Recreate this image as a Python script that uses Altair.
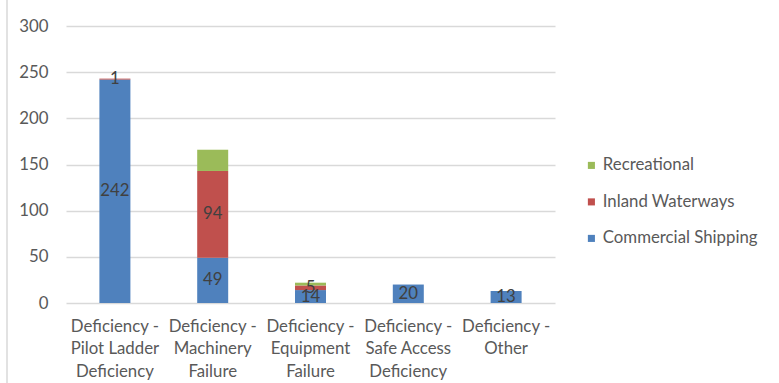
import altair as alt
import pandas as pd

# Deficiency categories, each given as its wrapped label lines
categories = [
    ["Deficiency -", "Pilot Ladder", "Deficiency"],
    ["Deficiency -", "Machinery", "Failure"],
    ["Deficiency -", "Equipment", "Failure"],
    ["Deficiency -", "Safe Access", "Deficiency"],
    ["Deficiency -", "Other"],
]
series = ["Commercial Shipping", "Inland Waterways", "Recreational"]
colors = ["#4F81BD", "#C0504D", "#9BBB59"]

commercial = [242, 49, 14, 20, 13]
inland = [1, 94, 5, 0, 0]
recreational = [0, 23, 3, 0, 0]

# Only these series carry data labels
labelled = ["Commercial Shipping", "Inland Waterways"]

cat_names = ["\n".join(c) for c in categories]
rows = []
for si, (name, vals) in enumerate(zip(series, [commercial, inland, recreational])):
    for cat, v in zip(cat_names, vals):
        if v > 0:
            rows.append({"category": cat, "series": name, "value": v, "order": si})
df = pd.DataFrame(rows)

font = "Lato"
grey_text = "#595959"
fsize = 16.8

base = alt.Chart(df).transform_stack(
    stack="value",
    groupby=["category"],
    as_=["v0", "v1"],
    sort=[alt.SortField("order", order="ascending")],
).transform_calculate(mid="(datum.v0 + datum.v1) / 2")

x_enc = alt.X(
    "category:N",
    sort=cat_names,
    scale=alt.Scale(paddingInner=0, paddingOuter=0),
    axis=alt.Axis(
        title=None,
        labelAngle=0,
        labelExpr="split(datum.value, '\\n')",
        labelLineHeight=22.5,
        labelFontSize=fsize,
        labelColor=grey_text,
        labelFont=font,
        labelPadding=15,
        domain=False,
        ticks=False,
    ),
)

bars = base.mark_bar(size=31).encode(
    x=x_enc,
    y=alt.Y(
        "v0:Q",
        scale=alt.Scale(domain=[0, 300]),
        axis=alt.Axis(
            title=None,
            values=[0, 50, 100, 150, 200, 250, 300],
            grid=True,
            gridColor="#D9D9D9",
            gridWidth=1.3,
            domain=False,
            ticks=False,
            labelFontSize=fsize,
            labelColor=grey_text,
            labelFont=font,
            labelPadding=18,
        ),
    ),
    y2="v1:Q",
    color=alt.Color(
        "series:N",
        # legend lists the series top-down in stacking order
        scale=alt.Scale(domain=series[::-1], range=colors[::-1]),
        legend=alt.Legend(
            title=None,
            orient="none",
            legendX=517,
            legendY=131,
            symbolType="square",
            symbolSize=50,
            symbolStrokeWidth=0,
            labelFontSize=fsize,
            labelColor=grey_text,
            labelFont=font,
            labelOffset=3,
            rowPadding=18.5,
        ),
    ),
)

labels = base.transform_filter(
    alt.FieldOneOfPredicate(field="series", oneOf=labelled)
).mark_text(fontSize=fsize, font=font, color="#404040").encode(
    x=alt.X("category:N", sort=cat_names),
    y=alt.Y("mid:Q"),
    text="value:Q",
)

# Thin frame line along the left edge of the chart area
frame = alt.Chart(pd.DataFrame({"x": [0]})).mark_rule(
    color="#D9D9D9", strokeWidth=1.5
).encode(x=alt.value(-59), y=alt.value(-26), y2=alt.value(360))

chart = alt.layer(bars, labels, frame).properties(
    width=489,
    height=277,
    padding={"left": 66, "top": 26, "right": 224, "bottom": 80},
    autosize=alt.AutoSizeParams(type="none"),
).configure(background="white").configure_view(stroke=None)

chart.save("out.html", embed_options={"renderer": "svg", "actions": False})
